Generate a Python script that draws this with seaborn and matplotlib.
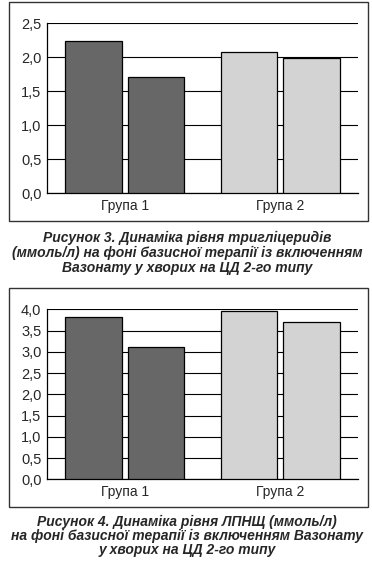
import pandas as pd
import matplotlib
matplotlib.use("Agg")
import matplotlib.pyplot as plt
import seaborn as sns
from matplotlib.patches import Rectangle
from matplotlib.ticker import FixedLocator

# Data
groups = ["Група 1", "Група 2"]
periods = ["до", "після"]
tg_before = [2.23, 2.08]
tg_after = [1.70, 1.98]
ldl_before = [3.82, 3.96]
ldl_after = [3.12, 3.70]

tg_ticks = [0.0, 0.5, 1.0, 1.5, 2.0, 2.5]
ldl_ticks = [0.0, 0.5, 1.0, 1.5, 2.0, 2.5, 3.0, 3.5, 4.0]

captions = [
    ["Рисунок 3. Динаміка рівня тригліцеридів",
     "(ммоль/л) на фоні базисної терапії із включенням",
     "Вазонату у хворих на ЦД 2-го типу"],
    ["Рисунок 4. Динаміка рівня ЛПНЩ (ммоль/л)",
     "на фоні базисної терапії із включенням Вазонату",
     "у хворих на ЦД 2-го типу"],
]

group_colors = ["#676767", "#d3d3d4"]

sns.set_style("white")
plt.rcParams["font.family"] = ["Liberation Sans", "DejaVu Sans"]

fig = plt.figure(figsize=(3.72, 5.68), dpi=100)


def make_df(before, after):
    return pd.DataFrame({
        "group": groups * 2,
        "period": [periods[0]] * 2 + [periods[1]] * 2,
        "value": list(before) + list(after),
    })


def draw_panel(rect, frame, df, ticks, caption, cap_px):
    # outer frame of the panel
    fig.patches.append(Rectangle(frame[:2], frame[2], frame[3], transform=fig.transFigure,
                                 fill=False, edgecolor="#333333", linewidth=1.0))
    ax = fig.add_axes(rect)
    sns.barplot(data=df, x="group", y="value", hue="period", ax=ax,
                width=0.8, gap=0.09, edgecolor="black", linewidth=0.9,
                legend=False, zorder=3)
    for cont in ax.containers:
        for i, bar in enumerate(cont):
            bar.set_facecolor(group_colors[i])
    ax.set_xlim(-0.5, 1.5)
    ax.set_ylim(ticks[0], ticks[-1])
    ax.set_yticks(ticks)
    ax.set_yticklabels([f"{t:.1f}".replace(".", ",") for t in ticks], fontsize=10.5)
    ax.yaxis.grid(True, color="black", linewidth=0.8, zorder=0)
    ax.set_axisbelow(True)
    ax.tick_params(axis="y", length=0, pad=4)
    ax.tick_params(axis="x", which="major", length=0, pad=4, labelsize=10)
    ax.xaxis.set_minor_locator(FixedLocator([0.5]))
    ax.tick_params(axis="x", which="minor", direction="in", length=3, width=0.8)
    ax.set_xlabel("")
    ax.set_ylabel("")
    for side in ["top", "right"]:
        ax.spines[side].set_visible(False)
    for side in ["left", "bottom"]:
        ax.spines[side].set_color("black")
        ax.spines[side].set_linewidth(0.9)
    for line, y in zip(caption, cap_px):
        fig.text(0.503, 1 - y / 568, line, ha="center", va="center", fontsize=10,
                 fontweight="bold", fontstyle="italic")
    return ax


draw_panel([0.1263, 0.6602, 0.836, 0.2993], (0.0242, 0.6109, 0.965, 0.3856),
           make_df(tg_before, tg_after), tg_ticks, captions[0], [238, 253, 268])
draw_panel([0.1263, 0.1562, 0.836, 0.2993], (0.0242, 0.1074, 0.965, 0.3856),
           make_df(ldl_before, ldl_after), ldl_ticks, captions[1], [522, 536, 550])

fig.savefig("out.png", dpi=100)
